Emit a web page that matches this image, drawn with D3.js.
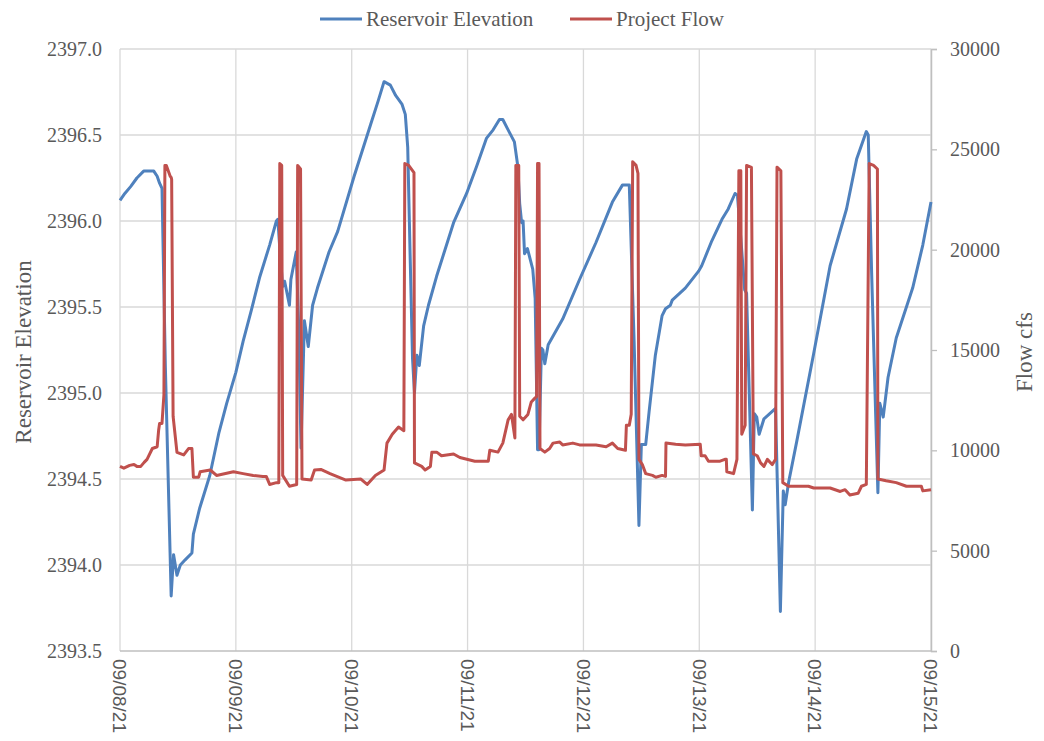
<!DOCTYPE html>
<html><head><meta charset="utf-8">
<script src="https://cdn.jsdelivr.net/npm/d3@7/dist/d3.min.js"></script>
<style>body{margin:0;background:#fff}svg{display:block}</style>
</head><body>
<svg id="c" width="1044" height="741"></svg>
<script>
// ---- data (hours since 09/08/21 00:00) ----
const dayLabels = ["09/08/21","09/09/21","09/10/21","09/11/21","09/12/21","09/13/21","09/14/21","09/15/21"];
const elevTicks = [2393.5,2394.0,2394.5,2395.0,2395.5,2396.0,2396.5,2397.0];
const flowTicks = [0,5000,10000,15000,20000,25000,30000];
const seriesNames = ["Reservoir Elevation","Project Flow"];

const elevHours = [0,1.0,2.2,3.5,4.9,7.0,7.7,8.2,8.7,9.4,10.6,11.1,11.8,12.5,13.5,14.9,15.2,16.5,18.6,20.5,22.1,24.0,25.5,27.2,28.9,31.0,32.4,32.7,33.2,33.7,34.1,35.1,35.4,36.5,37.0,37.5,38.2,39.0,39.9,40.9,43.3,45.1,48.5,51.9,53.5,54.7,56.0,57.1,58.4,59.1,59.6,60.1,60.6,61.0,61.5,62.0,62.9,63.9,65.6,69.1,71.8,73.9,75.9,77.3,78.6,79.3,80.4,81.7,82.4,82.8,83.2,83.5,83.8,84.4,85.5,86.0,86.5,86.8,87.3,87.6,88.0,88.7,91.7,95.2,98.6,102.0,104.1,105.5,106.5,107.5,108.0,108.9,109.6,110.9,112.3,113.0,114.0,114.4,117.1,119.9,120.5,122.6,124.7,126.0,127.4,127.9,128.6,129.4,129.8,131.0,131.4,131.9,132.4,133.4,135.8,136.8,137.4,137.8,138.5,140.2,143.7,147.1,150.5,152.6,154.6,155.0,155.7,157.0,157.4,158.1,159.1,160.8,164.2,166.3,168.0];
const elevValues = [2396.12,2396.16,2396.20,2396.25,2396.29,2396.29,2396.26,2396.22,2396.19,2395.15,2393.82,2394.06,2393.94,2394.00,2394.03,2394.07,2394.18,2394.33,2394.52,2394.77,2394.94,2395.12,2395.30,2395.48,2395.67,2395.86,2396.00,2396.01,2395.80,2395.62,2395.65,2395.51,2395.66,2395.82,2395.40,2394.68,2395.42,2395.27,2395.51,2395.61,2395.82,2395.94,2396.26,2396.56,2396.70,2396.81,2396.79,2396.73,2396.68,2396.62,2396.43,2395.80,2395.20,2395.00,2395.22,2395.16,2395.39,2395.51,2395.68,2395.99,2396.16,2396.32,2396.48,2396.53,2396.59,2396.59,2396.53,2396.46,2396.32,2396.10,2395.99,2396.00,2395.81,2395.84,2395.72,2395.55,2394.67,2394.67,2395.26,2395.25,2395.17,2395.28,2395.43,2395.66,2395.875,2396.11,2396.21,2396.21,2395.30,2394.23,2394.70,2394.70,2394.89,2395.22,2395.45,2395.49,2395.51,2395.54,2395.61,2395.71,2395.74,2395.885,2396.01,2396.07,2396.16,2396.15,2395.90,2395.60,2395.58,2394.32,2394.88,2394.86,2394.76,2394.85,2394.91,2393.73,2394.43,2394.35,2394.48,2394.72,2395.23,2395.74,2396.07,2396.36,2396.52,2396.50,2395.70,2394.42,2394.94,2394.86,2395.09,2395.32,2395.61,2395.86,2396.11];

const flowHours = [0,0.8,2.0,2.9,3.5,4.3,5.0,5.6,6.7,7.7,8.0,8.2,8.7,9.1,9.3,9.6,10.4,10.6,10.7,11.0,11.8,13.2,14.2,14.9,15.2,16.3,16.6,18.7,20.0,23.5,25.5,27.6,29.6,30.3,31.0,32.4,32.9,33.1,33.5,33.7,35.1,36.6,36.8,37.4,37.7,39.6,40.3,41.6,43.5,46.8,49.9,51.2,52.9,54.7,55.3,56.4,57.7,58.8,59.0,59.8,60.9,61.0,62.5,63.2,64.3,64.6,65.6,66.6,69.1,70.4,73.5,76.3,76.6,78.3,79.3,80.4,81.1,81.8,82.0,82.6,82.8,83.5,84.5,85.2,85.9,86.3,86.5,86.8,87.0,88.0,89.0,89.7,91.1,91.7,93.8,95.2,98.6,100.7,102.0,103.1,104.7,104.9,105.5,105.9,106.2,106.9,107.3,107.5,108.2,108.9,110.3,111.0,112.3,113.0,113.1,115.1,117.1,120.2,120.4,121.2,121.9,124.3,125.3,125.6,125.7,127.1,127.8,128.2,128.6,128.8,129.5,129.8,130.8,131.2,132.0,132.7,133.4,134.1,135.1,135.8,136.1,136.9,137.3,138.5,140.2,142.6,143.7,147.1,149.2,150.2,151.2,152.9,153.6,154.6,155.2,156.1,156.9,157.0,158.7,160.8,162.9,166.0,166.3,168.0];
const flowValues = [9200,9110,9250,9290,9200,9200,9400,9550,10090,10180,11000,11340,11340,12770,24200,24200,23660,23600,23500,11700,9900,9770,10090,10090,8660,8660,8930,9020,8750,8930,8840,8750,8700,8700,8300,8390,8390,24290,24200,8750,8210,8300,24200,24020,8570,8520,9020,9050,8840,8520,8570,8300,8750,9020,10360,10800,11160,10980,24290,24200,23840,9375,9200,9020,9200,9910,9910,9730,9820,9640,9460,9460,10000,9910,10360,11520,11790,10620,24200,24200,11700,11520,11790,12410,12590,12680,24290,24290,10090,9910,10090,10360,10410,10270,10360,10270,10270,10180,10360,10090,10000,11250,11250,11800,24380,24200,23800,9550,9290,8840,8750,8660,8750,8700,10360,10300,10270,10300,9730,9730,9460,9460,9550,9550,8930,8840,9550,23930,23930,10800,11250,24200,24100,9820,9730,9375,9200,9550,9290,9550,24110,23930,8390,8210,8210,8210,8125,8125,7950,8040,7770,7860,8210,8300,24290,24200,24020,8570,8480,8390,8210,8210,7980,8040];

// ---- layout ----
const L = 120, R = 931, T = 49, B = 651;
const svg = d3.select("#c");
const base = new Date(2021, 8, 8);
const toDate = h => new Date(base.getTime() + h * 3600000);
const x = d3.scaleTime().domain([toDate(0), toDate(168)]).range([L, R]);
const yL = d3.scaleLinear().domain([2393.5, 2397.0]).range([B, T]);
const yR = d3.scaleLinear().domain([0, 30000]).range([B, T]);
const gridC = "#d9d9d9", axisC = "#bfbfbf", textC = "#595959";
const blue = "#4F81BD", red = "#C0504D";
const serif = "'Liberation Serif','Times New Roman',serif";
const sans = "'Liberation Sans',Arial,sans-serif";

// gridlines
svg.append("g").selectAll("line").data(elevTicks.slice(1)).join("line")
  .attr("x1", L).attr("x2", R).attr("y1", d => yL(d)).attr("y2", d => yL(d))
  .attr("stroke", gridC).attr("stroke-width", 1.3);
const dayDates = dayLabels.map((d, i) => toDate(i * 24));
svg.append("g").selectAll("line").data(dayDates).join("line")
  .attr("x1", d => x(d)).attr("x2", d => x(d)).attr("y1", T).attr("y2", B)
  .attr("stroke", gridC).attr("stroke-width", 1.3);

// bottom axis line
svg.append("line").attr("x1", L).attr("x2", R).attr("y1", B).attr("y2", B)
  .attr("stroke", axisC).attr("stroke-width", 1.5);

// left axis labels
const gl = svg.append("g").attr("transform", `translate(${L},0)`)
  .call(d3.axisLeft(yL).tickValues(elevTicks).tickFormat(d3.format(".1f")).tickSize(0).tickPadding(18));
gl.select(".domain").remove();
gl.selectAll("text").attr("fill", textC).attr("font-family", serif).attr("font-size", 20);

// right axis
const gr = svg.append("g").attr("transform", `translate(${R},0)`)
  .call(d3.axisRight(yR).tickValues(flowTicks).tickFormat(d3.format("d")).tickSize(6).tickPadding(13));
gr.select(".domain").attr("stroke", axisC).attr("stroke-width", 1.5);
gr.selectAll(".tick line").attr("stroke", axisC).attr("stroke-width", 1.3);
gr.selectAll("text").attr("fill", textC).attr("font-family", serif).attr("font-size", 20);

// x labels (rotated)
svg.append("g").selectAll("text").data(dayDates).join("text")
  .attr("transform", d => `translate(${x(d)},${B + 8}) rotate(90)`)
  .attr("dy", "0.35em").attr("text-anchor", "start")
  .attr("fill", textC).attr("font-family", sans).attr("font-size", 19)
  .text((d, i) => dayLabels[i]);

// axis titles
svg.append("text").attr("transform", `translate(31,352) rotate(-90)`)
  .attr("text-anchor", "middle").attr("fill", textC).attr("font-family", serif).attr("font-size", 23)
  .text("Reservoir Elevation");
svg.append("text").attr("transform", `translate(1032,352) rotate(-90)`)
  .attr("text-anchor", "middle").attr("fill", textC).attr("font-family", serif).attr("font-size", 23)
  .text("Flow cfs");

// series
const elevData = elevHours.map((h, i) => ({t: toDate(h), v: elevValues[i]}));
const flowData = flowHours.map((h, i) => ({t: toDate(h), v: flowValues[i]}));
svg.append("path").datum(elevData)
  .attr("d", d3.line().x(d => x(d.t)).y(d => yL(d.v)))
  .attr("fill", "none").attr("stroke", blue).attr("stroke-width", 3).attr("stroke-linejoin", "round");
svg.append("path").datum(flowData)
  .attr("d", d3.line().x(d => x(d.t)).y(d => yR(d.v)))
  .attr("fill", "none").attr("stroke", red).attr("stroke-width", 3).attr("stroke-linejoin", "round");

// legend
const leg = [{n: seriesNames[0], c: blue, x: 320}, {n: seriesNames[1], c: red, x: 570}];
const lg = svg.append("g").selectAll("g").data(leg).join("g").attr("transform", d => `translate(${d.x},19)`);
lg.append("line").attr("x1", 0).attr("x2", 42).attr("y1", 0).attr("y2", 0).attr("stroke", d => d.c).attr("stroke-width", 3);
lg.append("text").attr("x", 46).attr("y", 7).attr("fill", textC).attr("font-family", serif).attr("font-size", 21).text(d => d.n);
</script>
</body></html>
